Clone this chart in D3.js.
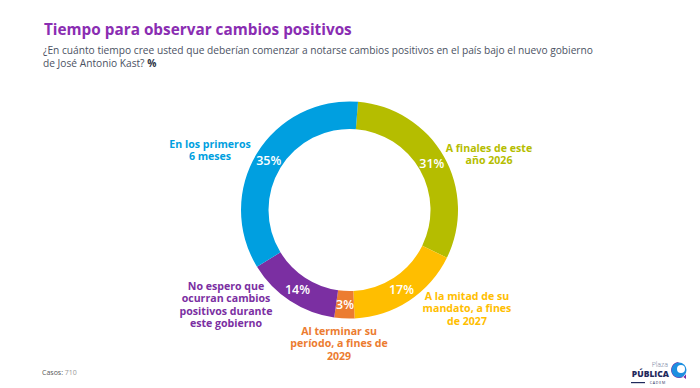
<!DOCTYPE html>
<html>
<head>
<meta charset="utf-8">
<title>Tiempo para observar cambios positivos</title>
<script src="https://d3js.org/d3.v7.min.js"></script>
<style>
    body { margin: 0; background: #fff; }
    svg { display: block; font-family: 'Open Sans', 'DejaVu Sans', sans-serif; }
</style>
</head>
<body>
<svg id="chart"></svg>
<script>
// Data
const categories = [
    "A finales de este año 2026",
    "A la mitad de su mandato, a fines de 2027",
    "Al terminar su período, a fines de 2029",
    "No espero que ocurran cambios positivos durante este gobierno",
    "En los primeros 6 meses"
];
const values = [31, 17, 3, 14, 35];
const labelLines = [
    ["A finales de este", "año 2026"],
    ["A la mitad de su", "mandato, a fines", "de 2027"],
    ["Al terminar su", "período, a fines de", "2029"],
    ["No espero que", "ocurran cambios", "positivos durante", "este gobierno"],
    ["En los primeros", "6 meses"]
];
const casos = 710;

// Styling / layout (kept apart from the data)
const colors = ["#B5BD00", "#FFBE00", "#EC7C30", "#7B2FA2", "#009FE0"];
const labelOffsets = [[139.5, -58.5], [117.5, 90], [-10.5, 125], [-123.5, 80], [-139.5, -62.5]];

const width = 700, height = 388;
const cx = 349.5, cy = 210, outerR = 108.5, innerR = 81;
const startOffset = 4.5 * Math.PI / 180;

const svg = d3.select("#chart").attr("width", width).attr("height", height);

// shrink/grow a text's font so it spans a given width
function fitWidth(sel, target) {
    const fs = +sel.attr("font-size");
    const w = sel.node().getComputedTextLength();
    sel.attr("font-size", fs * target / w);
}

// Title and subtitle
const title = svg.append("text")
    .attr("x", 44).attr("y", 35)
    .attr("fill", "#8A2DB2")
    .attr("font-size", 16.5).attr("font-weight", 700)
    .text("Tiempo para observar cambios positivos");
fitWidth(title, 308);

const sub = svg.append("text")
    .attr("x", 43).attr("y", 53.5)
    .attr("fill", "#4B5263")
    .attr("font-size", 10.2)
    .text("¿En cuánto tiempo cree usted que deberían comenzar a notarse cambios positivos en el país bajo el nuevo gobierno");
const sub2 = svg.append("text")
    .attr("x", 43).attr("y", 67)
    .attr("fill", "#4B5263")
    .attr("font-size", 10.2);
sub2.append("tspan").text("de José Antonio Kast? ");
sub2.append("tspan").attr("font-weight", 700).attr("fill", "#2E3445").text("%");

// Donut
const pie = d3.pie().sort(null)
    .startAngle(startOffset)
    .endAngle(startOffset + 2 * Math.PI);
const arcs = pie(values);
const arc = d3.arc().innerRadius(innerR).outerRadius(outerR);
const midArc = d3.arc().innerRadius((innerR + outerR) / 2).outerRadius((innerR + outerR) / 2);

const g = svg.append("g").attr("transform", `translate(${cx},${cy})`);

g.selectAll("path.slice")
    .data(arcs)
    .enter().append("path")
    .attr("class", "slice")
    .attr("d", arc)
    .attr("fill", (d, i) => colors[i]);

// Percentages inside the ring
g.selectAll("text.pct")
    .data(arcs)
    .enter().append("text")
    .attr("class", "pct")
    .attr("transform", d => `translate(${midArc.centroid(d)})`)
    .attr("text-anchor", "middle")
    .attr("dy", "0.36em")
    .attr("fill", "#fff")
    .attr("font-size", 12.5)
    .attr("font-weight", 600)
    .text(d => d.data + "%");

// Category labels outside
const lab = g.selectAll("text.cat")
    .data(arcs)
    .enter().append("text")
    .attr("class", "cat")
    .attr("text-anchor", "middle")
    .attr("fill", (d, i) => colors[i])
    .attr("font-size", 10.6)
    .attr("font-weight", 700);

lab.each(function(d, i) {
    const t = d3.select(this);
    labelLines[i].forEach((line, j) => {
        t.append("tspan")
            .attr("x", labelOffsets[i][0])
            .attr("y", labelOffsets[i][1] + j * 12.3)
            .text(line);
    });
});

// Footer
const foot = svg.append("text")
    .attr("x", 42).attr("y", 375)
    .attr("font-size", 7);
foot.append("tspan").attr("fill", "#555").text("Casos: ");
foot.append("tspan").attr("fill", "#999").text(casos);

// Logo
const logo = svg.append("g");
logo.append("text").attr("x", 668).attr("y", 366.5).attr("text-anchor", "end")
    .attr("font-size", 7).attr("fill", "#6E7A99").attr("font-weight", 300).text("Plaza");
logo.append("text").attr("x", 669).attr("y", 377).attr("text-anchor", "end")
    .attr("font-size", 8.5).attr("fill", "#1F2A5C").attr("font-weight", 800).text("PÚBLICA");
logo.append("text").attr("x", 666).attr("y", 384).attr("text-anchor", "end")
    .attr("font-size", 3.6).attr("fill", "#1F2A5C").attr("letter-spacing", 0.8).text("CADEM");
logo.append("rect").attr("x", 631).attr("y", 382).attr("width", 14).attr("height", 1.2).attr("fill", "#1F2A5C");
logo.append("path")
    .attr("d", "M679,362 a8,8 0 1,0 7,12 l0,5 l-4,-3 a8,8 0 0,1 -3,-14z")
    .attr("fill", "#7B2FA2");
logo.append("circle").attr("cx", 679).attr("cy", 370).attr("r", 7.5).attr("fill", "#1D8FE0");
logo.append("circle").attr("cx", 681).attr("cy", 369).attr("r", 4).attr("fill", "#fff");
</script>
</body>
</html>
